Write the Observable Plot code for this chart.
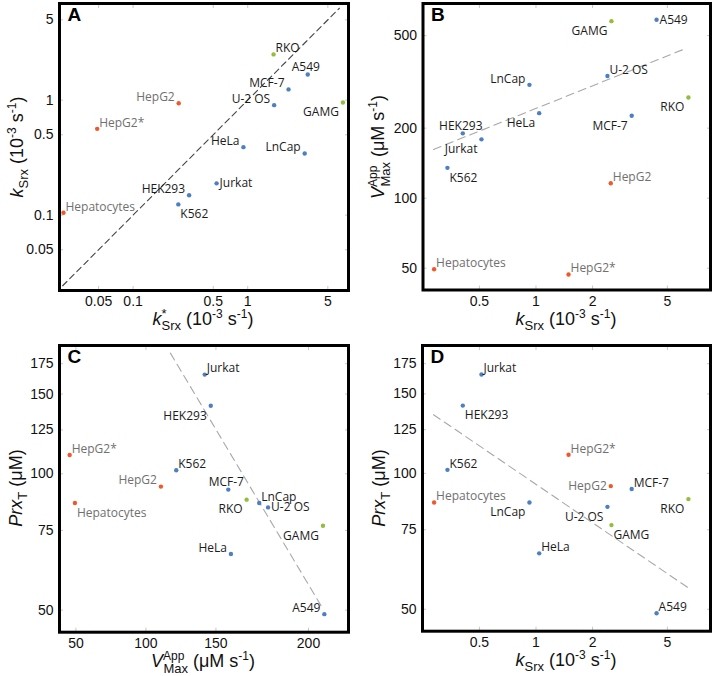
<!DOCTYPE html>
<html>
<head>
<meta charset="utf-8">
<script src="https://cdn.jsdelivr.net/npm/d3@7"></script>
<script src="https://cdn.jsdelivr.net/npm/@observablehq/plot@0.6"></script>
<style>
  body { margin: 0; background: #fff; }
  #fig { position: relative; width: 714px; height: 676px; overflow: hidden; }
  .panel { position: absolute; }
</style>
</head>
<body>
<div id="fig"></div>
<script>
// ---------- data ----------
const cells   = ["A549","GAMG","RKO","U-2 OS","MCF-7","LnCap","HeLa","HEK293","Jurkat","K562","HepG2","HepG2*","Hepatocytes"];
const groups  = ["other","highlight","highlight","other","other","other","other","other","other","other","liver","liver","liver"];
const kSrxStar = [3.34, 6.77, 1.68, 1.70, 2.27, 3.14, 0.917, 0.308, 0.535, 0.248, 0.25, 0.0486, 0.0247]; // panel A x
const kSrxA    = [1.67, 0.955, 2.50, 0.905, 1.24, 0.344, 0.39, 0.149, 0.189, 0.124, 0.94, 0.563, 0.105]; // panel A y
const kSrx     = [4.38, 2.52, 6.47, 2.40, 3.23, 0.923, 1.04, 0.408, 0.513, 0.338, 2.50, 1.49, 0.287];     // panels B, D x
const vmax     = [585, 577, 271, 335, 226, 307, 232, 190, 179, 135, 116, 47, 49.5];                          // panel B y, C x
const prxT     = [49.0, 76.8, 87.7, 84.3, 92.3, 86.2, 66.5, 141.3, 165.6, 101.8, 93.7, 110, 86.2];          // panels C, D y

const fitA = {x: [0.0243, 6.3],  y: [0.0243, 6.3]};
const fitB = {x: [0.285, 6.26],  y: [162, 440]};
const fitC = {x: [127.4, 572],   y: [184.7, 50.7]};
const fitD = {x: [0.285, 6.53],  y: [134.9, 55.6]};

const ticksA  = [0.05, 0.1, 0.5, 1, 5];
const ticksK  = [0.5, 1, 2, 5];
const ticksV  = [50, 100, 200, 500];
const ticksVLabelsC = ["50", "100", "150", "200"];
const ticksP  = [50, 75, 100, 125, 150, 175];

// ---------- layout / style ----------
const groupDomain = ["other", "highlight", "liver"];
const dotColors   = ["#4d7fc4", "#93bd3a", "#f0582a"];
const textColors  = {other: "#1c1c1c", highlight: "#1c1c1c", liver: "#707070"};

const placeA = {"RKO":"ra","A549":"a","MCF-7":"la","U-2 OS":"la","GAMG":"lb","HepG2":"la","HepG2*":"ra","HeLa":"la","LnCap":"la","Jurkat":"r","HEK293":"la","K562":"rb","Hepatocytes":"ra"};
const placeB = {"GAMG":"lb","A549":"r","U-2 OS":"ra","LnCap":"la","RKO":"lb","MCF-7":"lb","HeLa":"lb","HEK293":"a","Jurkat":"lb","K562":"rb","HepG2":"ra","Hepatocytes":"ra","HepG2*":"ra"};
const placeC = {"Jurkat":"ra","HEK293":"lb","HepG2*":"ra","K562":"ra","HepG2":"la","MCF-7":"a","RKO":"lb","LnCap":"ra","U-2 OS":"r","Hepatocytes":"rb","GAMG":"lb","HeLa":"la","A549":"la"};
const placeD = {"Jurkat":"ra","HEK293":"rb","HepG2*":"ra","K562":"ra","HepG2":"l","MCF-7":"ra","Hepatocytes":"ra","LnCap":"lb","RKO":"lb","U-2 OS":"lb","GAMG":"rb","HeLa":"ra","A549":"ra"};

const offsets = {
  r:  {dx: 3,  dy: 0,  anchor: "start"},
  ra: {dx: 2,  dy: -6, anchor: "start"},
  rb: {dx: 2,  dy: 10, anchor: "start"},
  l:  {dx: -4, dy: 0,  anchor: "end"},
  la: {dx: -4, dy: -6, anchor: "end"},
  lb: {dx: -4, dy: 10, anchor: "end"},
  a:  {dx: -2, dy: -7, anchor: "middle"}
};

const rows = cells.map((c, i) => ({
  cell: c, group: groups[i], kStar: kSrxStar[i], kA: kSrxA[i], k: kSrx[i], vmax: vmax[i], prx: prxT[i]
}));

const toPts = f => f.x.map((x, i) => ({x, y: f.y[i]}));
const fmt = d3.format("~g");
const tickFont = "'Liberation Sans', Arial, sans-serif";

function labelMarks(xk, yk, place) {
  const marks = [];
  for (const [code, o] of Object.entries(offsets)) {
    for (const tc of ["dark", "grey"]) {
      const data = rows.filter(d => place[d.cell] === code && ((d.group === "liver") === (tc === "grey")));
      if (!data.length) continue;
      marks.push(Plot.text(data, {
        x: xk, y: yk, text: "cell", dx: o.dx, dy: o.dy, textAnchor: o.anchor, lineAnchor: "middle",
        fill: tc === "grey" ? textColors.liver : textColors.other,
        fontSize: 12, fontFamily: "'Open Sans', sans-serif"
      }));
    }
  }
  return marks;
}

function innerTicks(xt, yt) {
  const o = {tickSize: -4, text: null, stroke: "#c8c8c8", label: null};
  return [
    Plot.axisX({anchor: "bottom", ticks: xt, ...o}),
    Plot.axisX({anchor: "top", ticks: xt, ...o}),
    Plot.axisY({anchor: "left", ticks: yt, ...o}),
    Plot.axisY({anchor: "right", ticks: yt, ...o})
  ];
}

function panel(cfg) {
  const xf = cfg.xf || fmt, yf = cfg.yf || fmt;
  const svg = Plot.plot({
    width: 357, height: 338,
    marginLeft: cfg.m[0], marginRight: cfg.m[1], marginTop: cfg.m[2], marginBottom: cfg.m[3],
    style: {fontSize: "14px", fontFamily: tickFont, color: "#111", background: "white", overflow: "visible"},
    x: {type: "log", domain: cfg.xd, axis: null},
    y: {type: "log", domain: cfg.yd, axis: null},
    color: {domain: groupDomain, range: dotColors},
    marks: [
      ...innerTicks(cfg.xt, cfg.yt),
      // tick labels
      Plot.text(cfg.xt, {x: d => d, frameAnchor: "bottom", lineAnchor: "top", dy: 6, text: xf,
        fontSize: 14, fontFamily: tickFont, fill: "#111"}),
      Plot.text(cfg.yt, {y: d => d, frameAnchor: "left", textAnchor: "end", dx: -6, text: yf,
        fontSize: 14, fontFamily: tickFont, fill: "#111"}),
      Plot.line(toPts(cfg.fit), {x: "x", y: "y", stroke: cfg.fitColor, strokeWidth: 1.1, strokeDasharray: cfg.dash}),
      Plot.dot(rows, {x: cfg.xk, y: cfg.yk, fill: "group", r: 2.2}),
      ...labelMarks(cfg.xk, cfg.yk, cfg.place),
      Plot.text([cfg.letter], {frameAnchor: "top-left", dx: 8, dy: 4, lineAnchor: "top", textAnchor: "start",
        fontSize: 19, fontWeight: "bold", fontFamily: tickFont, fill: "#000"}),
      Plot.frame({stroke: "#000", strokeWidth: 3})
    ]
  });
  const s = d3.select(svg);
  function title(x, y, rot, parts) {
    const t = s.append("text")
      .attr("transform", `translate(${x},${y})` + (rot ? " rotate(-90)" : ""))
      .attr("text-anchor", "middle")
      .attr("font-family", tickFont)
      .attr("font-size", 18).attr("fill", "#111");
    for (const p of parts) {
      const sp = t.append("tspan").text(p.t);
      if (p.dx) sp.attr("dx", p.dx);
      if (p.dy) sp.attr("dy", p.dy);
      if (p.size) sp.attr("font-size", p.size);
      if (p.it) sp.attr("font-style", "italic");
    }
  }
  title(cfg.xTitle[0], cfg.xTitle[1], false, cfg.xTitle[2]);
  title(cfg.yTitle[0], cfg.yTitle[1], true, cfg.yTitle[2]);
  const wrap = document.createElement("div");
  wrap.className = "panel";
  wrap.style.left = cfg.pos[0] + "px";
  wrap.style.top = cfg.pos[1] + "px";
  wrap.appendChild(svg);
  document.getElementById("fig").appendChild(wrap);
}

const unitsK = [{t: " (10", dy: -5}, {t: "-3", size: 12, dy: -7}, {t: " s", dy: 7}, {t: "-1", size: 12, dy: -7}, {t: ")", dy: 7}];
const tKstar = [{t: "k", it: true}, {t: "*", size: 13, dy: -7}, {t: "Srx", size: 13, dx: -5, dy: 12}, ...unitsK];
const tK     = [{t: "k", it: true}, {t: "Srx", size: 13, dy: 5}, ...unitsK];
const tV     = [{t: "V", it: true}, {t: "App", size: 12, dy: -7}, {t: "Max", size: 13, dx: -21, dy: 13},
                {t: " (μM s", dy: -6}, {t: "-1", size: 12, dy: -7}, {t: ")", dy: 7}];
const tP     = [{t: "Prx", it: true}, {t: "T", size: 13, dy: 5}, {t: " (μM)", dy: -5}];

panel({
  letter: "A", pos: [0, 0], m: [59, 9, 3, 48],
  xd: [0.0228, 7.57], yd: [0.0221, 6.93], xt: ticksA, yt: ticksA,
  xk: "kStar", yk: "kA", place: placeA, fit: fitA, fitColor: "#444", dash: "6,4",
  xTitle: [203, 325, tKstar], yTitle: [23, 147, tK]
});
panel({
  letter: "B", pos: [357, 0], m: [65.5, 4, 3, 48.5],
  xd: [0.2506, 8.48], yd: [40.3, 687], xt: ticksK, yt: ticksV,
  xk: "k", yk: "vmax", place: placeB, fit: fitB, fitColor: "#a8a8a8", dash: "8,5",
  xTitle: [209, 325, tK], yTitle: [27, 147, tV]
});
panel({
  letter: "C", pos: [0, 338], m: [59, 9, 7, 44.3],
  xd: [42.5, 743], yd: [44.7, 192], xt: ticksV, yt: ticksP,
  xf: d => ticksVLabelsC[ticksV.indexOf(d)],
  xk: "vmax", yk: "prx", place: placeC, fit: fitC, fitColor: "#a8a8a8", dash: "8,5",
  xTitle: [203, 329, tV], yTitle: [22, 150, tP]
});
panel({
  letter: "D", pos: [357, 338], m: [65, 4, 7, 45.3],
  xd: [0.249, 8.48], yd: [44.7, 192], xt: ticksK, yt: ticksP,
  xk: "k", yk: "prx", place: placeD, fit: fitD, fitColor: "#a8a8a8", dash: "8,5",
  xTitle: [209, 328, tK], yTitle: [28, 150, tP]
});
</script>
</body>
</html>
